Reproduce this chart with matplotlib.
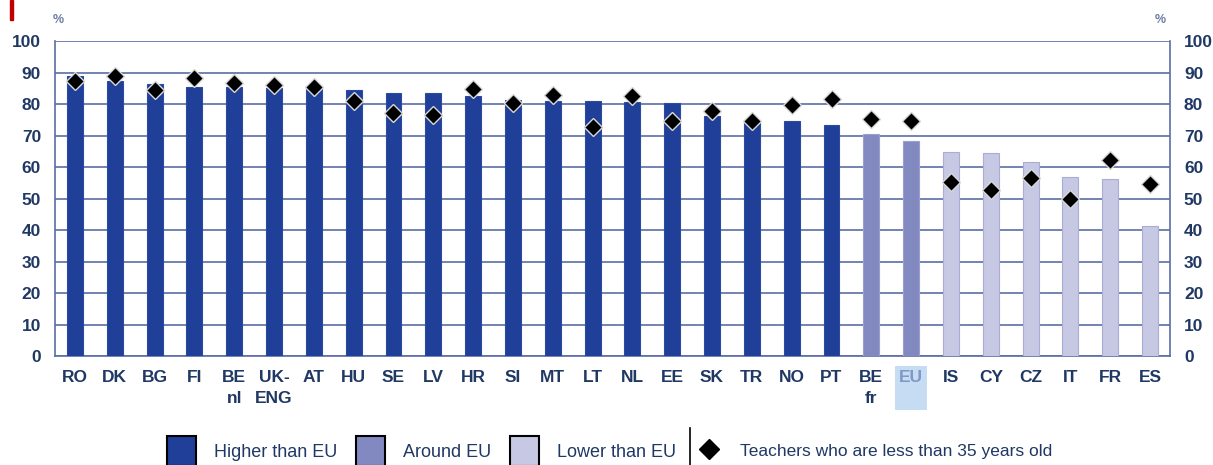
import numpy as np
import matplotlib.pyplot as plt
from matplotlib.patches import Patch, Rectangle
from matplotlib.lines import Line2D

countries = ["RO", "DK", "BG", "FI", "BE\nnl", "UK-\nENG", "AT", "HU", "SE", "LV",
             "HR", "SI", "MT", "LT", "NL", "EE", "SK", "TR", "NO", "PT",
             "BE\nfr", "EU", "IS", "CY", "CZ", "IT", "FR", "ES"]
share_all = [88.9, 87.4, 86.3, 85.5, 85.5, 85.2, 85.0, 84.3, 83.6, 83.4,
             82.5, 81.3, 81.0, 81.0, 80.7, 80.3, 76.3, 74.6, 74.7, 73.3,
             70.5, 68.4, 64.8, 64.5, 61.6, 56.7, 56.2, 41.2]
share_young = [87.4, 88.9, 84.3, 88.2, 86.8, 86.1, 85.5, 81.1, 77.1, 76.5,
               84.8, 80.2, 83.0, 72.8, 82.5, 74.7, 77.8, 74.7, 79.7, 81.6,
               75.2, 74.7, 55.1, 52.7, 56.6, 50.0, 62.2, 54.5]
group = ["high"] * 20 + ["around"] * 2 + ["low"] * 6

yticks = [0, 10, 20, 30, 40, 50, 60, 70, 80, 90, 100]
legend_labels = ["Higher than EU", "Around EU", "Lower than EU"]
marker_label = "Teachers who are less than 35 years old"

colors = {"high": "#1f3f98", "around": "#8289c1", "low": "#c6c8e4"}
edges = {"high": "#2c4aa0", "around": "#9aa0cc", "low": "#a9add6"}
navy = "#1f3864"
gridc = "#5b6ea6"

plt.rcParams['font.family'] = ['Liberation Sans', 'DejaVu Sans']

fig = plt.figure(figsize=(12.13, 4.65), dpi=100)
ax = fig.add_axes([55 / 1213, 1 - 356 / 465, (1170 - 55) / 1213, (356 - 41) / 465])

x = np.arange(len(countries))
ax.bar(x, share_all, width=0.4,
       color=[colors[g] for g in group],
       edgecolor=[edges[g] for g in group], linewidth=0.8, zorder=3)
ax.plot(x, share_young, linestyle="none", marker="D", markersize=9.5,
        markerfacecolor="black", markeredgecolor="#d8d8d8", markeredgewidth=1.0, zorder=4)

ax.set_xlim(-0.5, len(countries) - 0.5)
ax.set_ylim(0, 100)
ax.set_yticks(yticks)
ax.yaxis.grid(True, color=gridc, linewidth=1.2, zorder=0)
ax.set_axisbelow(True)
for side in ["left", "right", "bottom", "top"]:
    ax.spines[side].set_color(gridc)
    ax.spines[side].set_linewidth(1.2)
ax.spines["top"].set_visible(False)

ax.tick_params(axis="y", which="both", length=0, labelsize=12.5, labelcolor=navy,
               left=True, right=True, labelleft=True, labelright=True, pad=10)
ax.tick_params(axis="x", length=0, labelsize=12.5, labelcolor=navy, pad=10)
ax.set_xticks(x)
shown = [c if c != "EU" else "EU\n " for c in countries]
ax.set_xticklabels(shown, fontweight="bold", linespacing=1.5, va="top")
for t in ax.yaxis.get_major_ticks():
    t.label1.set_fontweight("bold")
    t.label2.set_fontweight("bold")

eu_lab = ax.get_xticklabels()[countries.index("EU")]
eu_lab.set_color("#7d99c8")
eu_lab.set_bbox(dict(facecolor="#c6dcf2", edgecolor="none", pad=3))

fig.text(58 / 1213, 1 - 20 / 465, "%", fontsize=9, fontweight="bold", color="#6d7fa8",
         ha="center", va="center")
fig.text(1160 / 1213, 1 - 20 / 465, "%", fontsize=9, fontweight="bold", color="#6d7fa8",
         ha="center", va="center")
fig.add_artist(Rectangle((10 / 1213, 1 - 20 / 465), 3 / 1213, 20 / 465,
                         transform=fig.transFigure, color="#c00000"))

handles = [Patch(facecolor=colors[g], edgecolor="black", linewidth=1.5)
           for g in ["high", "around", "low"]]
leg1 = fig.legend(handles, legend_labels, ncol=3, frameon=False,
                  loc="center left", bbox_to_anchor=(167 / 1213, 1 - 451 / 465),
                  fontsize=13, handlelength=1.6, handleheight=2.2,
                  handletextpad=1.0, columnspacing=1.05, borderaxespad=0,
                  borderpad=0)
for t in leg1.get_texts():
    t.set_color(navy)
dmark = Line2D([], [], linestyle="none", marker="D", markersize=10,
               markerfacecolor="black", markeredgecolor="black")
leg2 = fig.legend([dmark], [marker_label], frameon=False,
                  loc="center left", bbox_to_anchor=(700 / 1213, 1 - 451 / 465),
                  fontsize=12.5, handlelength=1.0, handletextpad=1.3,
                  borderaxespad=0, borderpad=0)
for t in leg2.get_texts():
    t.set_color(navy)
fig.add_artist(Line2D([690 / 1213, 690 / 1213], [0, 1 - 428 / 465],
                      transform=fig.transFigure, color="black", linewidth=1.2))

fig.savefig("out.png", dpi=100)
